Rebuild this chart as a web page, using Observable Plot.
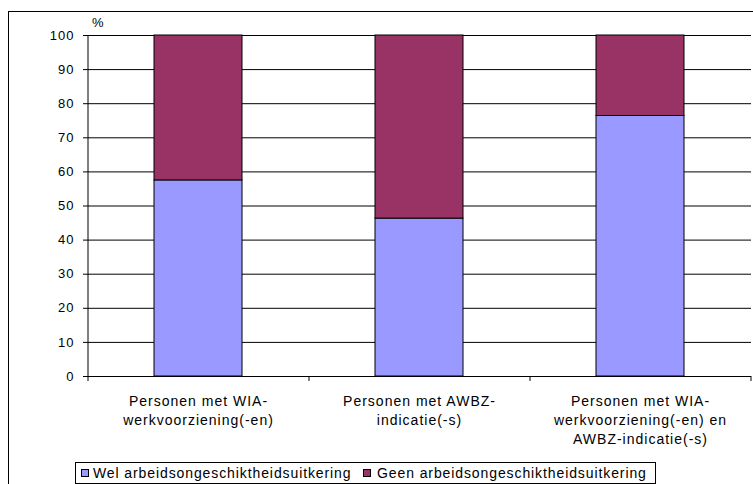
<!DOCTYPE html>
<html>
<head>
<meta charset="utf-8">
<script src="https://cdn.jsdelivr.net/npm/d3@7"></script>
<script src="https://cdn.jsdelivr.net/npm/@observablehq/plot@0.6"></script>
<style>
  body { margin: 0; background: #fff; font-family: "Liberation Sans", Arial, sans-serif; }
  #wrap { position: relative; width: 753px; height: 484px; overflow: hidden; }
  #frame { position: absolute; left: 8px; top: 11px; width: 800px; height: 600px; border: 1px solid #000; box-sizing: border-box; }
  #chart { position: absolute; left: 0; top: 0; }
  #pct { position: absolute; left: 92px; top: 15px; font-size: 13px; line-height: 16px; }
  #legend { position: absolute; left: 75px; top: 462px; width: 581px; height: 22px; border: 1px solid #000; box-sizing: border-box; background: #fff; font-size: 14px; letter-spacing: 0.9px; white-space: nowrap; }
  .sw { position: absolute; top: 6px; width: 8px; height: 8px; border: 1px solid #000; box-sizing: border-box; }
  .lt { position: absolute; top: 1px; line-height: 18px; }
</style>
</head>
<body>
<div id="wrap">
  <div id="frame"></div>
  <div id="chart"></div>
  <div id="pct">%</div>
  <div id="legend"></div>
</div>
<script>
const categories = [
  "Personen met WIA-\nwerkvoorziening(-en)",
  "Personen met AWBZ-\nindicatie(-s)",
  "Personen met WIA-\nwerkvoorziening(-en) en\nAWBZ-indicatie(-s)"
];
const series = ["Wel arbeidsongeschiktheidsuitkering", "Geen arbeidsongeschiktheidsuitkering"];
const welValues = [57.5, 46.3, 76.4];
const geenValues = [42.5, 53.7, 23.6];
const colors = ["#9999FF", "#993366"];
const yTicks = [0, 10, 20, 30, 40, 50, 60, 70, 80, 90, 100];

const data = [];
categories.forEach((c, i) => {
  data.push({cat: c, series: series[0], value: welValues[i]});
  data.push({cat: c, series: series[1], value: geenValues[i]});
});

const last = categories[categories.length - 1];

const plot = Plot.plot({
  width: 753,
  height: 484,
  marginLeft: 88,
  marginRight: 2,
  marginTop: 35,
  marginBottom: 108,
  style: { fontFamily: "Liberation Sans, Arial, sans-serif", fontSize: "13px", color: "#000", background: "transparent", letterSpacing: "1px" },
  x: { domain: categories, paddingInner: 0.6, paddingOuter: 0.3, axis: null },
  y: { domain: [0, 100], axis: null },
  color: { domain: series, range: colors },
  marks: [
    Plot.ruleY(yTicks, { stroke: "#000", strokeWidth: 1 }),
    Plot.barY(data, { x: "cat", y: "value", fill: "series", stroke: "#000", strokeWidth: 1, order: series }),
    Plot.axisY({ ticks: yTicks, tickSize: 5, tickFormat: d => d, fontSize: 13, tickPadding: 9, label: null }),
    Plot.ruleX(categories, { x: d => d, y1: 0, y2: 100, dx: -110.5, stroke: "#000", filter: (d, i) => i === 0 }),
    Plot.ruleX(categories, { x: d => d, y: 0, dx: -110.5, stroke: "#000", insetBottom: -5 }),
    Plot.ruleX([last], { x: d => d, y: 0, dx: 110.5, stroke: "#000", insetBottom: -5 }),
    Plot.text(categories, { x: d => d, y: 0, text: d => d, dy: 16, lineAnchor: "top", lineHeight: 1.36, fontSize: 14, fill: "#000" })
  ]
});
document.getElementById("chart").appendChild(plot);

const legend = document.getElementById("legend");
const swX = [5, 287];
const txX = [17, 301];
series.forEach((s, i) => {
  const sw = document.createElement("span");
  sw.className = "sw";
  sw.style.left = swX[i] + "px";
  sw.style.background = colors[i];
  legend.appendChild(sw);
  const t = document.createElement("span");
  t.className = "lt";
  t.style.left = txX[i] + "px";
  t.textContent = s;
  legend.appendChild(t);
});
</script>
</body>
</html>
